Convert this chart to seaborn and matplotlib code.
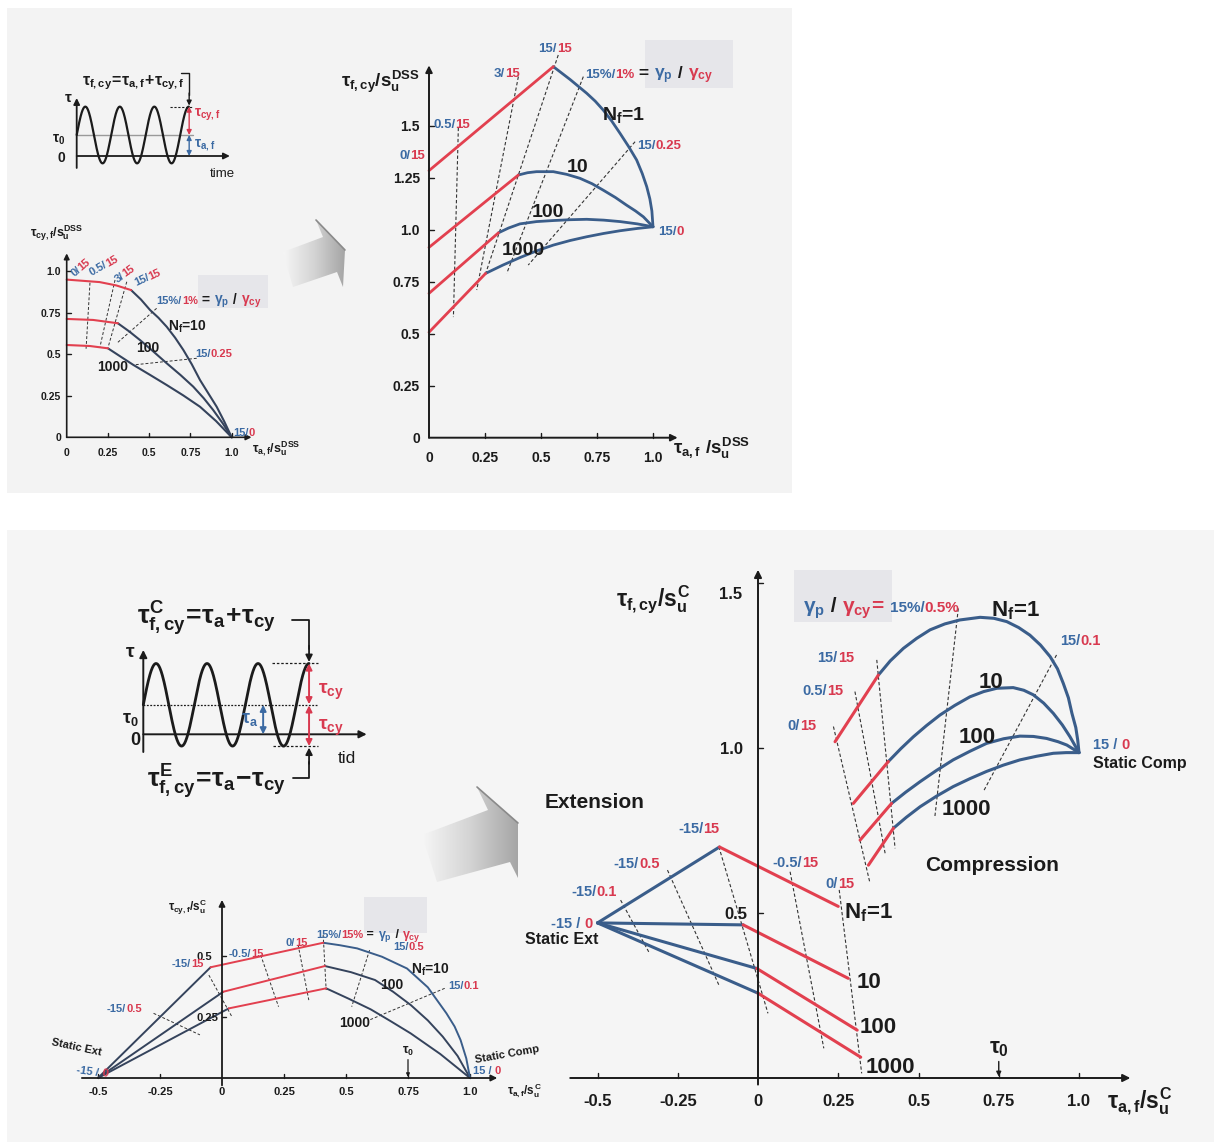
import numpy as np
import pandas as pd
import matplotlib
matplotlib.use("Agg")
import matplotlib.pyplot as plt
from matplotlib.patches import Polygon, Rectangle
from matplotlib.transforms import IdentityTransform
from matplotlib.colors import LinearSegmentedColormap
import seaborn as sns

# ------------------------------------------------------------------ data
# DSS, cyclic shear strength tau_cy,f / su (N_f = 10, 100, 1000)
dss_small_red = [
    [(0.0, 0.95), (0.2, 0.935), (0.3, 0.915), (0.39, 0.887)],
    [(0.0, 0.713), (0.16, 0.707), (0.31, 0.687)],
    [(0.0, 0.556), (0.14, 0.55), (0.25, 0.536)],
]
dss_small_blue = [
    [(0.39, 0.887), (0.45, 0.83), (0.505, 0.767), (0.556, 0.72), (0.606, 0.666), (0.657, 0.6),
     (0.707, 0.526), (0.758, 0.44), (0.808, 0.345), (0.86, 0.262), (0.909, 0.184), (0.955, 0.095), (1.0, 0.0)],
    [(0.31, 0.687), (0.38, 0.637), (0.444, 0.586), (0.525, 0.517), (0.606, 0.446), (0.69, 0.375),
     (0.767, 0.305), (0.83, 0.236), (0.888, 0.164), (0.945, 0.085), (1.0, 0.0)],
    [(0.25, 0.536), (0.33, 0.484), (0.404, 0.436), (0.505, 0.376), (0.606, 0.315), (0.707, 0.252),
     (0.808, 0.184), (0.905, 0.098), (1.0, 0.0)],
]
dss_small_strain = [
    [(0.141, 0.931), (0.117, 0.526)],
    [(0.293, 0.948), (0.202, 0.546)],
    [(0.364, 0.937), (0.252, 0.546)],
    [(0.545, 0.777), (0.303, 0.566)],
    [(0.788, 0.476), (0.404, 0.436)],
]
dss_small_ticks = [0, 0.25, 0.5, 0.75, 1.0]
dss_small_ticklabels = ["0", "0.25", "0.5", "0.75", "1.0"]

# DSS, total cyclic shear strength tau_f,cy / su (N_f = 1, 10, 100, 1000)
dss_main_red = [
    [(0.0, 1.284), (0.555, 1.784)],
    [(0.0, 0.915), (0.399, 1.263)],
    [(0.0, 0.694), (0.31, 0.985)],
    [(0.0, 0.507), (0.253, 0.79)],
]
dss_main_blue = [
    [(0.555, 1.784), (0.63, 1.722), (0.704, 1.656), (0.742, 1.618), (0.778, 1.575), (0.816, 1.522),
     (0.853, 1.463), (0.891, 1.4), (0.927, 1.335), (0.952, 1.27), (0.972, 1.207), (0.986, 1.148),
     (0.995, 1.09), (1.0, 1.014)],
    [(0.399, 1.263), (0.44, 1.274), (0.48, 1.279), (0.555, 1.279), (0.615, 1.266), (0.674, 1.247),
     (0.728, 1.221), (0.778, 1.19), (0.832, 1.155), (0.882, 1.118), (0.922, 1.09), (0.957, 1.062), (1.0, 1.014)],
    [(0.31, 0.985), (0.355, 1.008), (0.406, 1.028), (0.48, 1.039), (0.555, 1.044), (0.63, 1.048),
     (0.704, 1.05), (0.78, 1.046), (0.853, 1.039), (0.93, 1.028), (1.0, 1.014)],
    [(0.253, 0.79), (0.33, 0.83), (0.406, 0.866), (0.48, 0.898), (0.555, 0.926), (0.63, 0.948),
     (0.704, 0.966), (0.78, 0.982), (0.853, 0.995), (0.93, 1.006), (1.0, 1.014)],
]
dss_main_strain = [
    [(0.131, 1.49), (0.109, 0.58)],
    [(0.399, 1.736), (0.213, 0.71)],
    [(0.577, 1.84), (0.25, 0.78)],
    [(0.689, 1.736), (0.347, 0.79)],
    [(0.92, 1.423), (0.443, 0.83)],
]
dss_main_yticks = [0, 0.25, 0.5, 0.75, 1.0, 1.25, 1.5]
dss_main_yticklabels = ["0", "0.25", "0.5", "0.75", "1.0", "1.25", "1.5"]

# Triaxial, cyclic shear strength tau_cy,f / su^C (N_f = 10, 100, 1000)
tx_small_ext = [
    [(-0.5, 0.0), (-0.046, 0.452)],
    [(-0.5, 0.0), (0.005, 0.352)],
    [(-0.5, 0.0), (0.027, 0.284)],
]
tx_small_red = [
    [(-0.046, 0.452), (0.408, 0.552)],
    [(0.005, 0.352), (0.415, 0.457)],
    [(0.027, 0.284), (0.42, 0.366)],
]
tx_small_comp = [
    [(0.408, 0.552), (0.475, 0.542), (0.545, 0.529), (0.645, 0.495), (0.746, 0.447), (0.83, 0.37),
     (0.905, 0.264), (0.938, 0.21), (0.962, 0.155), (0.985, 0.08), (1.0, 0.0)],
    [(0.415, 0.457), (0.52, 0.432), (0.617, 0.4), (0.69, 0.352), (0.761, 0.298), (0.83, 0.235),
     (0.89, 0.169), (0.95, 0.09), (1.0, 0.0)],
    [(0.42, 0.366), (0.51, 0.324), (0.6, 0.28), (0.68, 0.232), (0.761, 0.182), (0.88, 0.098), (1.0, 0.0)],
]
tx_small_strain = [
    [(-0.053, 0.42), (0.04, 0.25)],
    [(0.156, 0.502), (0.228, 0.291)],
    [(0.307, 0.543), (0.35, 0.318)],
    [(0.408, 0.584), (0.42, 0.359)],
    [(0.595, 0.522), (0.523, 0.291)],
    [(0.898, 0.366), (0.595, 0.237)],
    [(-0.276, 0.264), (-0.089, 0.176)],
]
tx_xticks = [-0.5, -0.25, 0, 0.25, 0.5, 0.75, 1.0]
tx_xticklabels = ["-0.5", "-0.25", "0", "0.25", "0.5", "0.75", "1.0"]

# Triaxial, total cyclic shear strength tau_f,cy / su^C (N_f = 1, 10, 100, 1000)
tx_main_ext_blue = [
    [(-0.5, 0.47), (-0.12, 0.70)],
    [(-0.5, 0.47), (-0.046, 0.464)],
    [(-0.5, 0.47), (-0.004, 0.332)],
    [(-0.5, 0.47), (0.0, 0.257)],
]
tx_main_ext_red = [
    [(-0.12, 0.70), (0.25, 0.52)],
    [(-0.046, 0.464), (0.281, 0.302)],
    [(-0.004, 0.332), (0.309, 0.145)],
    [(0.0, 0.257), (0.32, 0.063)],
]
tx_main_comp_red = [
    [(0.24, 1.019), (0.375, 1.221)],
    [(0.297, 0.832), (0.406, 0.959)],
    [(0.318, 0.721), (0.416, 0.832)],
    [(0.344, 0.645), (0.422, 0.757)],
]
tx_main_comp_blue = [
    [(0.375, 1.221), (0.412, 1.264), (0.453, 1.302), (0.494, 1.332), (0.536, 1.358), (0.582, 1.376),
     (0.629, 1.388), (0.692, 1.396), (0.735, 1.393), (0.775, 1.383), (0.812, 1.365), (0.847, 1.342),
     (0.88, 1.312), (0.91, 1.277), (0.933, 1.24), (0.951, 1.196), (0.967, 1.152), (0.978, 1.105),
     (0.99, 1.062), (0.996, 1.024), (1.0, 0.986)],
    [(0.406, 0.959), (0.445, 0.998), (0.484, 1.034), (0.525, 1.068), (0.567, 1.1), (0.613, 1.129),
     (0.66, 1.155), (0.703, 1.171), (0.744, 1.181), (0.795, 1.183), (0.828, 1.175), (0.858, 1.161),
     (0.89, 1.136), (0.92, 1.105), (0.948, 1.07), (0.972, 1.034), (1.0, 0.986)],
    [(0.416, 0.832), (0.46, 0.866), (0.505, 0.898), (0.556, 0.932), (0.608, 0.964), (0.66, 0.99),
     (0.712, 1.014), (0.765, 1.028), (0.816, 1.036), (0.858, 1.035), (0.899, 1.029), (0.935, 1.019),
     (0.962, 1.009), (1.0, 0.986)],
    [(0.422, 0.757), (0.462, 0.79), (0.505, 0.822), (0.556, 0.854), (0.608, 0.883), (0.66, 0.907),
     (0.712, 0.929), (0.764, 0.948), (0.816, 0.964), (0.868, 0.975), (0.92, 0.984), (0.96, 0.986), (1.0, 0.986)],
]
tx_main_strain = [
    [(-0.428, 0.539), (-0.338, 0.378)],
    [(-0.282, 0.63), (-0.122, 0.282)],
    [(-0.122, 0.701), (0.031, 0.196)],
    [(0.1, 0.625), (0.205, 0.09)],
    [(0.253, 0.57), (0.323, 0.014)],
    [(0.235, 1.065), (0.349, 0.59)],
    [(0.302, 1.171), (0.396, 0.681)],
    [(0.37, 1.267), (0.427, 0.696)],
    [(0.624, 1.423), (0.551, 0.792)],
    [(0.93, 1.282), (0.702, 0.868)],
]
tx_main_yticks = [0.5, 1.0, 1.5]
tx_main_yticklabels = ["0.5", "1.0", "1.5"]

# Sketch of the cyclic load history
load_tau0 = 1.0
load_amp_dss = 1.35
load_amp_tx = 1.4
load_cycles = 3.25

# ------------------------------------------------------------------ style
sns.set_theme(style="white")
plt.rcParams["font.family"] = ["Liberation Sans", "DejaVu Sans"]
plt.rcParams["mathtext.fontset"] = "custom"
for key in ("rm", "it", "bf", "sf"):
    plt.rcParams["mathtext." + key] = "Liberation Sans:bold"

INK = "#1b1b1b"
BLUE = "#3a5d8a"
DARK = "#35435c"
RED = "#e2404f"
TBLUE = "#3b6aa3"
TRED = "#d8394f"
DASH = (0, (3.0, 2.0))

W, H = 1214, 1142
fig = plt.figure(figsize=(W / 100, H / 100), dpi=100, facecolor="white")
renderer = fig.canvas.get_renderer()

# page background
bg = fig.add_axes([0, 0, 1, 1], zorder=-5)
bg.set_axis_off()
bg.add_patch(Rectangle((7, 8), 785, 485, facecolor="#f3f3f3", edgecolor="none"))
bg.add_patch(Rectangle((7, 530), 1207, 612, facecolor="#f5f5f5", edgecolor="none"))
for (x0, y0, w, h) in [(645, 40, 88, 48), (198, 275, 70, 33), (364, 897, 63, 36), (794, 570, 98, 52)]:
    bg.add_patch(Rectangle((x0, y0), w, h, facecolor="#e6e6ea", edgecolor="none"))


def shaded_arrow(points):
    poly = Polygon(points, closed=True, facecolor="none", edgecolor="none")
    bg.add_patch(poly)
    xs = [p[0] for p in points]
    ys = [p[1] for p in points]
    cmap = LinearSegmentedColormap.from_list("grey", ["#f6f6f6", "#d4d4d4", "#a5a5a5"])
    im = bg.imshow(np.linspace(0, 1, 256).reshape(1, -1), extent=[min(xs), max(xs), max(ys), min(ys)],
                   cmap=cmap, aspect="auto", zorder=1)
    im.set_clip_path(poly)
    bg.plot([points[2][0], points[3][0]], [points[2][1], points[3][1]], color="#8a8a8a", lw=1.2)


shaded_arrow([(283, 252), (323, 237), (316, 220), (345, 250), (343, 287), (337, 272), (293, 287)])
shaded_arrow([(422, 835), (488, 810), (477, 787), (518, 823), (518, 878), (510, 862), (437, 882)])
bg.set_xlim(0, W)
bg.set_ylim(H, 0)


def panel(ox, oy, sx, sy, xlim, ylim):
    """Axes whose data origin sits at pixel (ox, oy) with sx, sy pixels per unit."""
    left, right = ox + sx * xlim[0], ox + sx * xlim[1]
    top, bottom = oy - sy * ylim[1], oy - sy * ylim[0]
    ax = fig.add_axes([left / W, 1 - bottom / H, (right - left) / W, (bottom - top) / H])
    ax.set_xlim(*xlim)
    ax.set_ylim(*ylim)
    ax.set_axis_off()
    ax.patch.set_alpha(0)
    ax.scale_px = (sx, sy)
    ax.lims = (xlim, ylim)
    return ax


def restore(ax):
    ax.set_xlim(*ax.lims[0])
    ax.set_ylim(*ax.lims[1])


def curves(ax, segments, color, lw, ls="-"):
    rows = [(i, j, x, y) for i, seg in enumerate(segments) for j, (x, y) in enumerate(seg)]
    df = pd.DataFrame(rows, columns=["seg", "order", "x", "y"])
    sns.lineplot(data=df, x="x", y="y", units="seg", estimator=None, sort=False,
                 color=color, lw=lw, linestyle=ls, ax=ax, legend=False)
    for line in ax.get_lines():
        line.set_clip_on(False)
        line.set_solid_capstyle("round")
        line.set_solid_joinstyle("round")
    restore(ax)


def rich(ax, x, y, parts, size, ha="left", rotation=0.0, weight="bold"):
    """Coloured text pieces laid out one after another, vertically centred on (x, y)."""
    px, py = ax.transData.transform((x, y))
    items = []
    for p in parts:
        s, c = p[0], p[1]
        fs = p[2] if len(p) > 2 else size
        t = fig.text(0, 0, s, fontsize=fs, fontweight=weight)
        items.append((s, c, fs, t.get_window_extent(renderer).width))
        t.remove()
    total = sum(it[3] for it in items)
    start = {"left": 0.0, "center": -total / 2, "right": -total}[ha]
    th = np.deg2rad(rotation)
    drop = size * 100 / 72 * 0.36
    bx = px + start * np.cos(th) + drop * np.sin(th)
    by = py + start * np.sin(th) - drop * np.cos(th)
    off = 0.0
    for s, c, fs, w in items:
        fig.text(bx + off * np.cos(th), by + off * np.sin(th), s, color=c, fontsize=fs,
                 fontweight=weight, rotation=rotation, rotation_mode="anchor",
                 ha="left", va="baseline", transform=IdentityTransform())
        off += w


def frac(a, b, sep="/"):
    return [(a + sep, TBLUE), (b, TRED)]


def axis_arrows(ax, xr, yr, lw=1.3, head=10):
    kw = dict(arrowstyle="-|>", color=INK, lw=lw, mutation_scale=head, shrinkA=0, shrinkB=0)
    ax.annotate("", xy=(xr[1], 0), xytext=(xr[0], 0), arrowprops=kw, annotation_clip=False)
    ax.annotate("", xy=(0, yr[1]), xytext=(0, yr[0]), arrowprops=kw, annotation_clip=False)


def tick_marks(ax, xs, ys, length=4.0, lw=1.0):
    sx, sy = ax.scale_px
    for x in xs:
        ax.plot([x, x], [0, length / sy], color=INK, lw=lw, clip_on=False)
    for y in ys:
        ax.plot([0, length / sx], [y, y], color=INK, lw=lw, clip_on=False)
    restore(ax)


def small_arrow(ax, x, y0, y1, color=INK, lw=1.0, head=6, style="-|>"):
    ax.annotate("", xy=(x, y1), xytext=(x, y0), annotation_clip=False,
                arrowprops=dict(arrowstyle=style, color=color, lw=lw, mutation_scale=head,
                                shrinkA=0, shrinkB=0))


# ------------------------------------------------------------------ DSS small chart
axL = panel(66.7, 437.3, 165, 166, (-0.1, 1.2), (-0.1, 1.15))
axis_arrows(axL, (0, 1.12), (0, 1.108), lw=1.2, head=8)
tick_marks(axL, dss_small_ticks[1:], dss_small_ticks[1:], length=4)
curves(axL, dss_small_strain, "#333333", 0.7, DASH)
curves(axL, dss_small_blue, DARK, 1.5)
curves(axL, dss_small_red, RED, 1.5)
for v, lab in zip(dss_small_ticks, dss_small_ticklabels):
    rich(axL, -0.035, v, [(lab, INK)], 7.5, "right")
    rich(axL, v, -0.09, [(lab, INK)], 7.5, "center")
rich(axL, -0.222, 1.237, [(r"$\tau_{cy,f}/s_u^{DSS}$", INK)], 9)
rich(axL, 1.12, -0.066, [(r"$\tau_{a,f}/s_u^{DSS}$", INK)], 9)
rich(axL, 0.081, 1.028, frac("0", "15"), 8, "center", rotation=40)
rich(axL, 0.222, 1.038, frac("0.5", "15"), 8, "center", rotation=30)
rich(axL, 0.347, 0.988, frac("3", "15"), 8, "center", rotation=35)
rich(axL, 0.485, 0.967, frac("15", "15"), 8, "center", rotation=25)
rich(axL, 0.545, 0.827, frac("15%", "1%") + [(" = ", INK, 10), (r"$\gamma_p$", TBLUE, 10),
                                            (" / ", INK, 10), (r"$\gamma_{cy}$", TRED, 10)], 8)
rich(axL, 0.615, 0.67, [(r"N$_f$=10", INK)], 10)
rich(axL, 0.49, 0.546, [("100", INK)], 10, "center")
rich(axL, 0.278, 0.43, [("1000", INK)], 10, "center")
rich(axL, 0.778, 0.506, frac("15", "0.25"), 8)
rich(axL, 1.01, 0.034, frac("15", "0"), 8)

# ------------------------------------------------------------------ DSS main chart
axR = panel(429, 437.7, 224, 208, (-0.1, 1.15), (-0.1, 1.9))
axis_arrows(axR, (0, 1.11), (0, 1.79), lw=1.4, head=10)
tick_marks(axR, [0.25, 0.5, 0.75, 1.0], dss_main_yticks[1:], length=5)
curves(axR, dss_main_strain, "#333333", 0.8, DASH)
curves(axR, dss_main_blue, BLUE, 2.0)
curves(axR, dss_main_red, RED, 2.0)
for v, lab in zip(dss_main_yticks, dss_main_yticklabels):
    rich(axR, -0.04, v, [(lab, INK)], 10, "right")
for v, lab in zip(dss_small_ticks, dss_small_ticklabels):
    rich(axR, v, -0.091, [(lab, INK)], 10, "center")
rich(axR, -0.04, 1.72, [(r"$\tau_{f,cy}/s_u^{DSS}$", INK)], 13.5, "right")
rich(axR, 1.089, -0.043, [(r"$\tau_{a,f}\ /s_u^{DSS}$", INK)], 13.5)
rich(axR, 0.5625, 1.878, frac("15", "15"), 9.5, "center")
rich(axR, 0.348, 1.758, frac("3", "15"), 9.5, "center")
rich(axR, 0.696, 1.753, frac("15%", "1%") + [(" = ", INK, 12.5), (r"$\gamma_p$", TBLUE, 12.5),
                                            (" / ", INK, 12.5), (r"$\gamma_{cy}$", TRED, 12.5)], 9.5)
rich(axR, 0.772, 1.561, [(r"N$_f$=1", INK)], 14)
rich(axR, 0.018, 1.513, frac("0.5", "15"), 9.5)
rich(axR, -0.018, 1.363, frac("0", "15"), 9.5, "right")
rich(axR, 0.929, 1.411, frac("15", "0.25"), 9.5)
rich(axR, 0.661, 1.311, [("10", INK)], 14, "center")
rich(axR, 0.533, 1.095, [("100", INK)], 14, "center")
rich(axR, 0.422, 0.912, [("1000", INK)], 14, "center")
rich(axR, 1.022, 0.999, frac("15", "0"), 9.5)

# ------------------------------------------------------------------ load sketch (DSS)
t = np.linspace(0, load_cycles, 400)
axTI = panel(76.7, 156, 34.5, 21, (-1.0, 4.8), (-1.2, 4.2))
axis_arrows(axTI, (0, 4.44), (-0.57, 2.76), lw=1.3, head=9)
axTI.plot([0, 3.37], [load_tau0, load_tau0], color="#9a9a9a", lw=1.0)
axTI.plot([2.7, 3.37], [load_tau0 + load_amp_dss] * 2, color=INK, lw=0.8, ls=(0, (2, 1.5)))
sns.lineplot(x=t, y=load_tau0 + load_amp_dss * np.sin(2 * np.pi * t), color=INK, lw=1.6, ax=axTI)
restore(axTI)
small_arrow(axTI, 3.26, load_tau0 + load_amp_dss, load_tau0, color=TRED, head=7, style="<|-|>")
small_arrow(axTI, 3.26, load_tau0, 0.0, color=TBLUE, head=7, style="<|-|>")
axTI.plot([3.02, 3.26, 3.26], [3.95, 3.95, 2.9], color=INK, lw=1.0, clip_on=False)
small_arrow(axTI, 3.26, 3.0, load_tau0 + load_amp_dss + 0.05, head=7)
restore(axTI)
rich(axTI, 0.157, 3.62, [(r"$\tau_{f,cy}\!=\!\tau_{a,f}\!+\!\tau_{cy,f}$", INK)], 11.5)
rich(axTI, -0.25, 2.81, [(r"$\tau$", INK)], 11, "center")
rich(axTI, -0.51, 0.9, [(r"$\tau_0$", INK)], 10, "center")
rich(axTI, -0.45, -0.05, [("0", INK)], 10, "center")
rich(axTI, 4.21, -0.76, [("time", INK)], 9.5, "center", weight="normal")
rich(axTI, 3.4, 2.1, [(r"$\tau_{cy,f}$", TRED)], 10)
rich(axTI, 3.4, 0.67, [(r"$\tau_{a,f}$", TBLUE)], 10)

# ------------------------------------------------------------------ load sketch (triaxial)
axBI = panel(143.3, 734.3, 51, 29.5, (-0.6, 4.6), (-2.0, 4.6))
axis_arrows(axBI, (0, 4.38), (-0.6, 2.86), lw=1.4, head=11)
axBI.plot([0, 3.4], [load_tau0, load_tau0], color=INK, lw=0.9, ls=(0, (1.5, 1.2)))
axBI.plot([2.52, 3.42], [load_tau0 + load_amp_tx] * 2, color=INK, lw=0.9, ls=(0, (2, 1.5)))
axBI.plot([2.55, 3.43], [load_tau0 - load_amp_tx] * 2, color=INK, lw=0.9, ls=(0, (2, 1.5)))
sns.lineplot(x=t, y=load_tau0 + load_amp_tx * np.sin(2 * np.pi * t), color=INK, lw=2.0, ax=axBI)
restore(axBI)
small_arrow(axBI, 3.25, load_tau0 + load_amp_tx, load_tau0 + 0.02, color=TRED, lw=1.4, head=9, style="<|-|>")
small_arrow(axBI, 3.25, load_tau0 - 0.02, load_tau0 - load_amp_tx, color=TRED, lw=1.4, head=9, style="<|-|>")
small_arrow(axBI, 2.35, load_tau0, 0.0, color=TBLUE, lw=1.4, head=9, style="<|-|>")
axBI.plot([2.92, 3.25, 3.25], [3.87, 3.87, 2.9], color=INK, lw=1.3, clip_on=False)
small_arrow(axBI, 3.25, 3.0, load_tau0 + load_amp_tx + 0.05, lw=1.3, head=10)
axBI.plot([2.94, 3.25, 3.25], [-1.48, -1.48, -0.95], color=INK, lw=1.3, clip_on=False)
small_arrow(axBI, 3.25, -1.0, load_tau0 - load_amp_tx - 0.05, lw=1.3, head=10)
restore(axBI)
rich(axBI, -0.12, 4.04, [(r"$\tau_{f,cy}^{C}\!=\!\tau_a\!+\!\tau_{cy}$", INK)], 19)
rich(axBI, 0.07, -1.48, [(r"$\tau_{f,cy}^{E}\!=\!\tau_a\!-\!\tau_{cy}$", INK)], 19)
rich(axBI, -0.26, 2.86, [(r"$\tau$", INK)], 14, "center")
rich(axBI, -0.26, 0.59, [(r"$\tau_0$", INK)], 13, "center")
rich(axBI, -0.16, -0.13, [("0", INK)], 13, "center")
rich(axBI, 3.99, -0.77, [("tid", INK)], 12.5, "center", weight="normal")
rich(axBI, 2.25, 0.59, [(r"$\tau_a$", TBLUE)], 13, "right")
rich(axBI, 3.42, 1.6, [(r"$\tau_{cy}$", TRED)], 14)
rich(axBI, 3.42, 0.38, [(r"$\tau_{cy}$", TRED)], 14)

# ------------------------------------------------------------------ triaxial small chart
axBL = panel(222, 1078, 248, 245, (-0.6, 1.2), (-0.1, 0.8))
axis_arrows(axBL, (-0.565, 1.11), (-0.03, 0.727), lw=1.3, head=9)
tick_marks(axBL, [x for x in tx_xticks if x != 0], [0.25, 0.5], length=4)
curves(axBL, tx_small_strain, "#333333", 0.7, DASH)
curves(axBL, tx_small_ext, DARK, 1.4)
curves(axBL, tx_small_comp[1:], DARK, 1.4)
curves(axBL, tx_small_comp[:1], BLUE, 1.4)
curves(axBL, tx_small_red, RED, 1.4)
for v, lab in zip(tx_xticks, tx_xticklabels):
    rich(axBL, v, -0.052, [(lab, INK)], 8, "center")
rich(axBL, -0.04, 0.5, [("0.5", INK)], 8, "right")
rich(axBL, -0.015, 0.25, [("0.25", INK)], 8, "right")
rich(axBL, -0.218, 0.699, [(r"$\tau_{cy,f}/s_u^{C}$", INK)], 8.5)
rich(axBL, 1.15, -0.052, [(r"$\tau_{a,f}/s_u^{C}$", INK)], 8.5)
rich(axBL, -0.074, 0.468, frac("-15", "15"), 8, "right")
rich(axBL, 0.027, 0.509, frac("-0.5", "15"), 8)
rich(axBL, 0.257, 0.554, frac("0", "15"), 8)
rich(axBL, 0.379, 0.588, frac("15%", "15%") + [(" = ", INK, 9), (r"$\gamma_p$", TBLUE, 9),
                                              (" / ", INK, 9), (r"$\gamma_{cy}$", TRED, 9)], 8)
rich(axBL, 0.689, 0.54, frac("15", "0.5"), 8)
rich(axBL, 0.761, 0.448, [(r"N$_f$=10", INK)], 10)
rich(axBL, 0.637, 0.384, [("100", INK)], 10)
rich(axBL, 0.911, 0.38, frac("15", "0.1"), 8)
rich(axBL, 0.472, 0.23, [("1000", INK)], 10)
rich(axBL, -0.464, 0.284, frac("-15", "0.5"), 8)
rich(axBL, -0.585, 0.128, [("Static Ext", INK)], 8, "center", rotation=-12)
rich(axBL, -0.585, 0.037, frac("-15", "0", " / "), 8, rotation=-8)
rich(axBL, 1.149, 0.1, [("Static Comp", INK)], 8, "center", rotation=10)
rich(axBL, 1.012, 0.033, frac("15", "0", " / "), 8)
rich(axBL, 0.75, 0.115, [(r"$\tau_0$", INK)], 9, "center")
small_arrow(axBL, 0.75, 0.075, 0.004, head=5, lw=0.9)

# ------------------------------------------------------------------ triaxial main chart
axBR = panel(758, 1078, 321, 330, (-0.62, 1.2), (-0.05, 1.6))
axis_arrows(axBR, (-0.585, 1.16), (-0.02, 1.54), lw=1.4, head=11)
tick_marks(axBR, [x for x in tx_xticks if x != 0], tx_main_yticks, length=5)
curves(axBR, tx_main_strain, "#333333", 0.8, DASH)
curves(axBR, tx_main_ext_blue, BLUE, 2.2)
curves(axBR, tx_main_comp_blue, BLUE, 2.2)
curves(axBR, tx_main_ext_red, RED, 2.2)
curves(axBR, tx_main_comp_red, RED, 2.2)
for v, lab in zip(tx_xticks, tx_xticklabels):
    rich(axBR, v, -0.067, [(lab, INK)], 12, "center")
for v, lab, dx in zip(tx_main_yticks, tx_main_yticklabels, (-0.032, -0.048, -0.048)):
    rich(axBR, dx, v - (0.03 if v == 1.5 else 0.0), [(lab, INK)], 12, "right")
rich(axBR, -0.442, 1.454, [(r"$\tau_{f,cy}/s_u^{C}$", INK)], 16.5)
rich(axBR, 1.087, -0.067, [(r"$\tau_{a,f}/s_u^{C}$", INK)], 16.5)
rich(axBR, 0.139, 1.428, [(r"$\gamma_p$", TBLUE, 15), (" / ", INK, 15), (r"$\gamma_{cy}$", TRED, 15),
                          ("= ", TRED, 15), ("15%/", TBLUE, 11), ("0.5%", TRED, 11)], 11)
rich(axBR, 0.727, 1.423, [(r"N$_f$=1", INK)], 16)
rich(axBR, 0.941, 1.327, frac("15", "0.1"), 10.5)
rich(axBR, 0.185, 1.277, frac("15", "15"), 10.5)
rich(axBR, 0.688, 1.206, [("10", INK)], 16)
rich(axBR, 0.139, 1.176, frac("0.5", "15"), 10.5)
rich(axBR, 0.093, 1.07, frac("0", "15"), 10.5)
rich(axBR, 0.624, 1.039, [("100", INK)], 16)
rich(axBR, 1.044, 1.014, frac("15", "0", " / "), 10.5)
rich(axBR, 1.044, 0.958, [("Static Comp", INK)], 11.5)
rich(axBR, 0.572, 0.822, [("1000", INK)], 16)
rich(axBR, -0.664, 0.842, [("Extension", INK)], 15)
rich(axBR, 0.52, 0.651, [("Compression", INK)], 15)
rich(axBR, -0.249, 0.757, frac("-15", "15"), 10.5)
rich(axBR, -0.449, 0.651, frac("-15", "0.5"), 10.5)
rich(axBR, 0.045, 0.655, frac("-0.5", "15"), 10.5)
rich(axBR, 0.211, 0.592, frac("0", "15"), 10.5)
rich(axBR, -0.581, 0.568, frac("-15", "0.1"), 10.5)
rich(axBR, 0.267, 0.509, [(r"N$_f$=1", INK)], 16)
rich(axBR, -0.644, 0.469, frac("-15", "0", " / "), 10.5)
rich(axBR, -0.727, 0.423, [("Static Ext", INK)], 11.5)
rich(axBR, 0.308, 0.297, [("10", INK)], 16)
rich(axBR, 0.316, 0.161, [("100", INK)], 16)
rich(axBR, 0.336, 0.039, [("1000", INK)], 16)
rich(axBR, 0.75, 0.1, [(r"$\tau_0$", INK)], 16, "center")
small_arrow(axBR, 0.75, 0.05, 0.004, head=7, lw=1.0)

fig.savefig("out.png", dpi=100, facecolor="white")
